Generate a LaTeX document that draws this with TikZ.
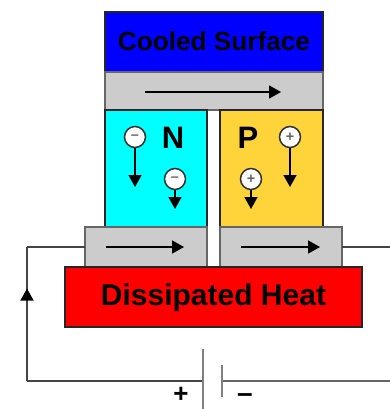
\documentclass[tikz,border=0pt]{standalone}
\usepackage{fontspec}
\setmainfont{Liberation Sans}
\usepackage{xcolor}
\usetikzlibrary{arrows.meta}
\usetikzlibrary{decorations,decorations.markings}
\definecolor{plategray}{HTML}{CCCCCC}
\definecolor{pgold}{HTML}{FFD43B}
\definecolor{ncyan}{HTML}{00FFFF}
\definecolor{wiregray}{HTML}{444444}
\tikzset{
	tip/.tip={Triangle[width=13pt,length=12pt]},
	block/.style={draw=black!85,line width=1.2pt,anchor=north west,inner sep=0pt,outer sep=0pt,font=\bfseries},
	plate/.style={block,fill=plategray,draw=black!60},
	flow/.style={-{tip},line width=1.5pt,black},
	carrier/.style={circle,draw=black!80,fill=white,line width=1.5pt,minimum size=21pt,inner sep=0pt,text=black!60,font=\bfseries\Large},
	wire/.style={wiregray,line width=1.5pt},
	up>/.style={decoration={markings, mark=at position 0.69 with {\arrow[black]{tip}}}, postaction={decorate}},
}
\begin{document}
\begin{tikzpicture}[x=1pt,y=-1pt]
\useasboundingbox (0,0) rectangle (390,409);
\node[block,fill=blue,minimum width=218pt,minimum height=60pt,font=\bfseries\fontsize{26.2}{26}\selectfont] (cooled) at (105,12) {\raisebox{1pt}{Cooled Surface}};
\node[plate,minimum width=218pt,minimum height=38pt] (topplate) at (105,72) {};
\node[block,fill=ncyan,minimum width=102pt,minimum height=117pt] (nleg) at (105,110) {};
\node[block,fill=pgold,minimum width=103pt,minimum height=117pt] (pleg) at (220,110) {};
\node[plate,minimum width=122pt,minimum height=40pt] (leftplate) at (85,227) {};
\node[plate,minimum width=122pt,minimum height=40pt] (rightplate) at (220,227) {};
\node[block,fill=red,minimum width=297pt,minimum height=60pt,text depth=5pt,font=\bfseries\fontsize{30}{30}\selectfont] (heat) at (65,267) {Dissipated Heat};
\node[font=\bfseries\fontsize{31}{31}\selectfont] (nlabel) at (173,138) {N};
\node[font=\bfseries\fontsize{31}{31}\selectfont] (plabel) at (248,138) {P};
% carriers and their drift
\foreach \name/\x/\y/\sign/\z in {na/135/137/--/187,nb/175/179/--/209,pa/290/137/+/187,pb/251/179/+/209} {
	\node[carrier] (\name) at (\x,\y) {\sign};
	\coordinate (\name end) at (\x,\z);
	\draw[flow] (\name) -- (\name end);
}
% current through the plates
\foreach \name/\xa/\xb/\y in {ta/145/281/92,la/106/184/247,ra/241/320/247} {
	\coordinate (\name s) at (\xa,\y);
	\coordinate (\name e) at (\xb,\y);
	\draw[flow] (\name s) -- (\name e);
}
% circuit
\coordinate (cornerup) at (27,247);
\coordinate (cornerdown) at (27,381);
\coordinate (longplus) at (203,349);
\coordinate (longminus) at (203,409);
\coordinate (longmid) at (203,381);
\coordinate (shortplus) at (222,365);
\coordinate (shortminus) at (222,397);
\coordinate (shortmid) at (222,381);
\coordinate (exitright) at (390,247);
\coordinate (exitbottom) at (390,381);
\draw[wire] (longmid) -- (cornerdown);
\draw[wire,up>] (cornerdown) -- (cornerup);
\draw[wire] (cornerup) -- (leftplate.west);
\draw[wire] (rightplate.east) -- (exitright);
\draw[wire,gray!80!black] (shortmid) -- (exitbottom);
\draw[wire,gray,line width=2pt] (longplus) -- (longminus);
\draw[wire,gray,line width=2pt] (shortplus) -- (shortminus);
\node[font=\bfseries\fontsize{26}{26}\selectfont] (plus) at (181,395) {+};
\node[font=\bfseries\fontsize{28}{28}\selectfont] (minus) at (245,398) {--};
\end{tikzpicture}
\end{document}
